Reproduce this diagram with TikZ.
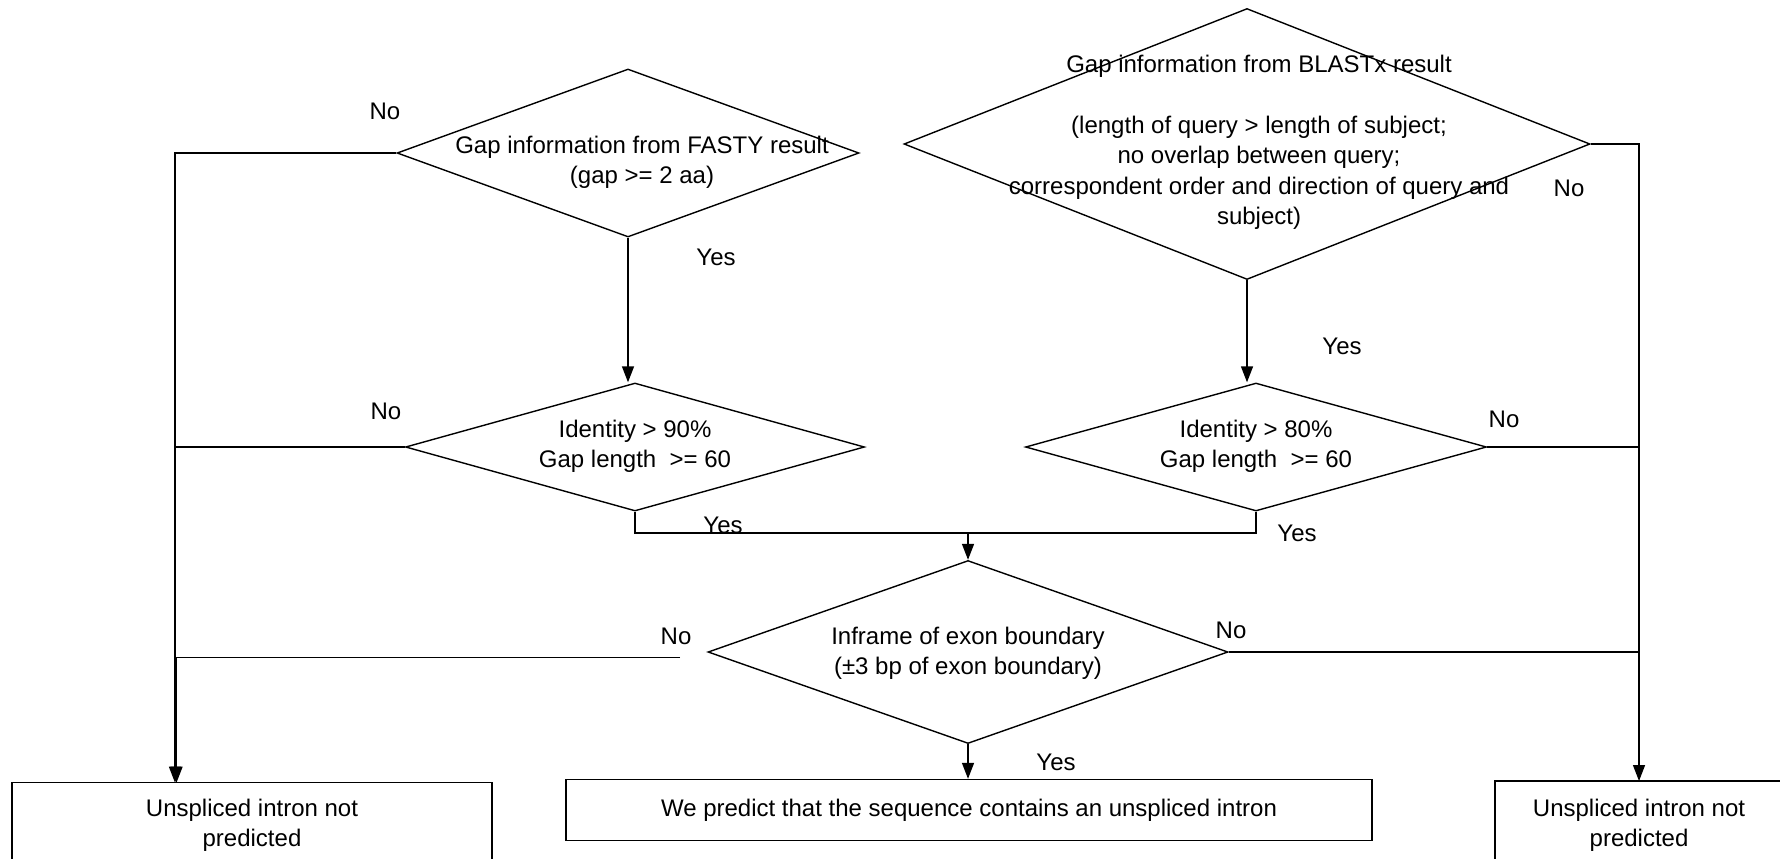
\documentclass[tikz,border=0pt]{standalone}
\usepackage{fontspec}
\setmainfont{Liberation Sans}
\usetikzlibrary{shapes.geometric,arrows.meta}

\tikzset{
  decision/.style={diamond, draw, inner sep=0pt},
  outcome/.style={rectangle, draw, inner sep=0pt},
  note/.style={align=center, inner sep=0pt},
  answer/.style={inner sep=0pt},
  flow/.style={-{Triangle[length=8pt,width=6pt]}},
}

\begin{document}
\begin{tikzpicture}[x=0.5pt, y=-0.5pt, line width=0.7pt,
    every node/.style={font=\fontsize{12}{15.2}\selectfont}]
  \useasboundingbox (0,0) rectangle (1780,858);
  \clip (0,0) rectangle (1780,858);

  \node[decision, minimum width=231pt, minimum height=84pt]    (fasty) at (628,153) {};
  \node[decision, minimum width=343pt, minimum height=135.5pt] (blast) at (1247,144) {};
  \node[decision, minimum width=229.5pt, minimum height=64pt]  (id90)  at (635,447) {};
  \node[decision, minimum width=230.5pt, minimum height=64pt]  (id80)  at (1256,447) {};
  \node[decision, minimum width=260pt, minimum height=91.5pt]  (frame) at (968,652) {};

  \node[note] (fastytext) at (642,162.5) {Gap information from FASTY result\\(gap >= 2 aa)};
  \node[note] (blasttext) at (1259,142.5) {Gap information from BLASTx result\\[15.2pt]
    (length of query > length of subject;\\no overlap between query;\\
    correspondent order and direction of query and\\subject)};
  \node[note] (id90text)  at (635,446.5) {Identity > 90\%\\Gap length\ \ >= 60};
  \node[note] (id80text)  at (1256,446.5) {Identity > 80\%\\Gap length\ \ >= 60};
  \node[note] (frametext) at (968,653) {Inframe of exon boundary\\(±3 bp of exon boundary)};

  \node[outcome, minimum width=240pt, minimum height=42.3pt, align=center] (nopredA) at (252,825)
    {Unspliced intron not\\predicted};
  \node[outcome, minimum width=403pt, minimum height=30.5pt] (result) at (969,810)
    {We predict that the sequence contains an unspliced intron};
  \node[outcome, minimum width=144pt, minimum height=44pt, align=center] (nopredB) at (1639,825)
    {Unspliced intron not\\predicted};

  \path
    coordinate (join)  at (968,533)
    coordinate (ltip)  at (175,782.7)
    coordinate (ltipb) at (176.5,782.7)
    coordinate (rtip)  at (1639,781)
    coordinate (gapl)  at (680,657.7)
  ;

  % yes branches
  \draw[flow] (fasty.south) -- (fasty.south |- id90.north);
  \draw[flow] (blast.south) -- (blast.south |- id80.north);
  \draw (id90.south) |- (join) -| (id80.south);
  \draw[flow] (join) -- (frame.north);
  \draw[flow] (frame.south) -- (frame.south |- result.north);

  % no branches
  \draw[flow] (fasty.west) -| (ltip);
  \draw (id90.west) -- (id90.west -| ltip);
  \draw[flow] (gapl) -| (ltipb);
  \draw[flow] (blast.east) -| (rtip);
  \draw (id80.east) -- (id80.east -| rtip);
  \draw (frame.east) -- (frame.east -| rtip);

  \node[answer] (noA)  at (385,111)  {No};
  \node[answer] (yesA) at (716,257)  {Yes};
  \node[answer] (noB)  at (386,411)  {No};
  \node[answer] (yesB) at (723,525)  {Yes};
  \node[answer] (yesC) at (1342,346) {Yes};
  \node[answer] (noC)  at (1569,188) {No};
  \node[answer] (noD)  at (1504,419) {No};
  \node[answer] (yesD) at (1297,533) {Yes};
  \node[answer] (noE)  at (676,636)  {No};
  \node[answer] (noF)  at (1231,630) {No};
  \node[answer] (yesE) at (1056,762) {Yes};
\end{tikzpicture}
\end{document}
